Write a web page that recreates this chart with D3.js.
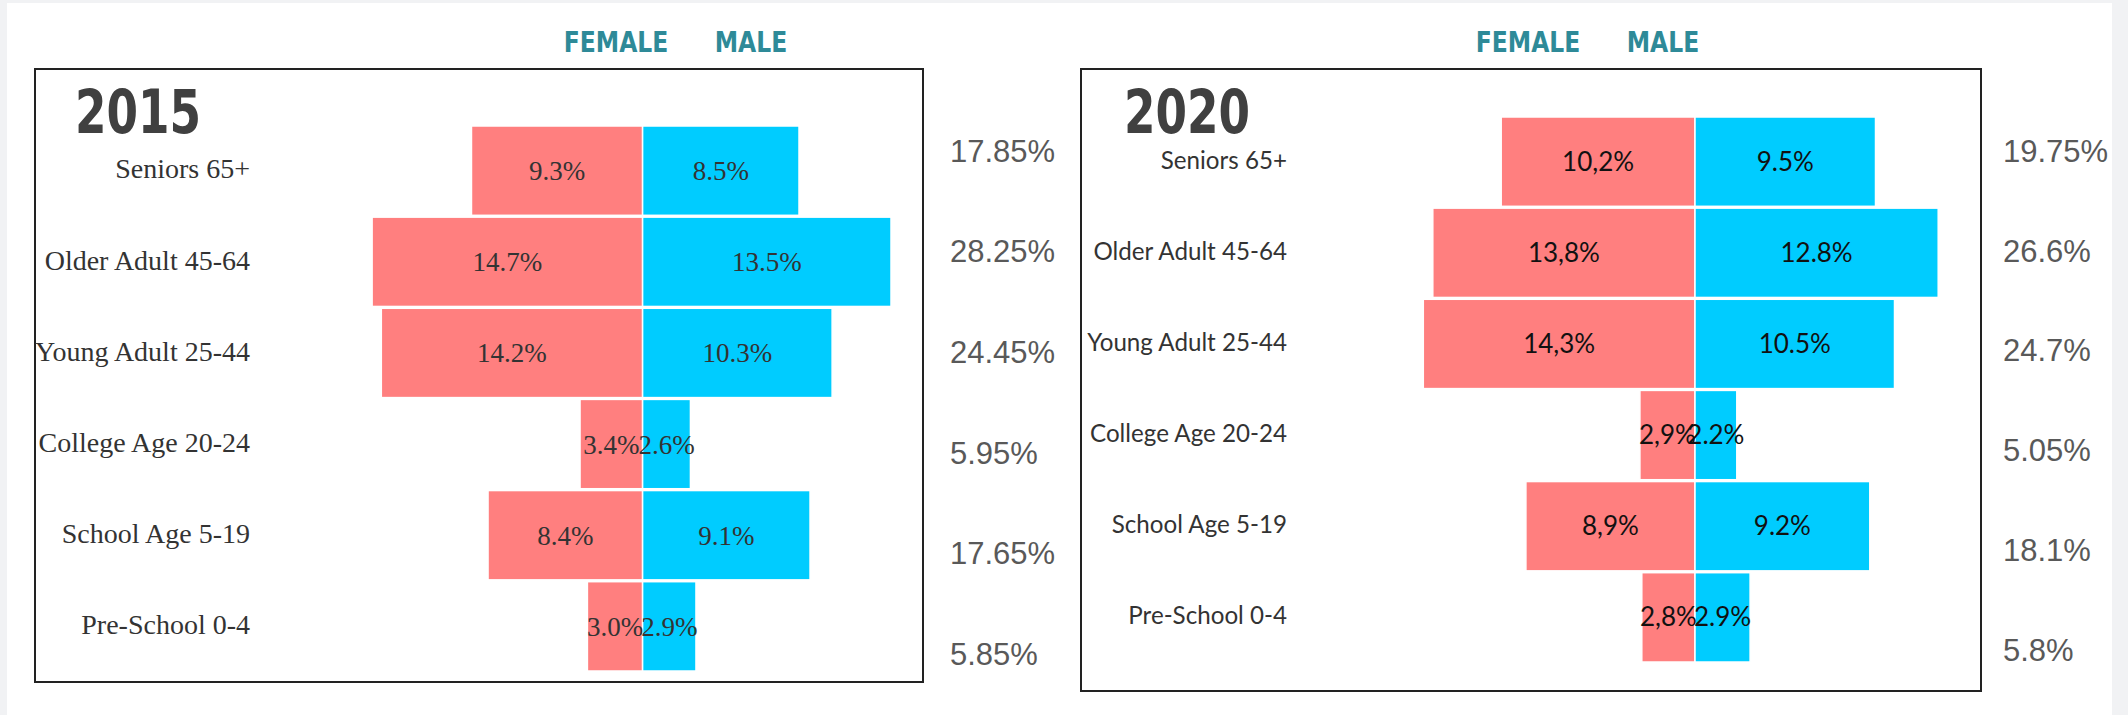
<!DOCTYPE html>
<html>
<head>
<meta charset="utf-8">
<script src="https://cdn.jsdelivr.net/npm/d3@7"></script>
<style>
body { margin: 0; background: #f1f2f4; }
svg { display: block; }
</style>
</head>
<body>
<div id="chart"></div>
<script>
// age groups, top to bottom
var groups = ["Seniors 65+", "Older Adult 45-64", "Young Adult 25-44", "College Age 20-24", "School Age 5-19", "Pre-School 0-4"];

// 2015
var female2015 = [9.3, 14.7, 14.2, 3.4, 8.4, 3.0];
var male2015 = [8.5, 13.5, 10.3, 2.6, 9.1, 2.9];
var total2015 = ["17.85%", "28.25%", "24.45%", "5.95%", "17.65%", "5.85%"];

// 2020
var female2020 = [10.2, 13.8, 14.3, 2.9, 8.9, 2.8];
var male2020 = [9.5, 12.8, 10.5, 2.2, 9.2, 2.9];
var total2020 = ["19.75%", "26.6%", "24.7%", "5.05%", "18.1%", "5.8%"];

var femaleColor = "#ff7f7f",
    maleColor = "#00ccff",
    headColor = "#2e8a98";

var condensed = "'Liberation Sans Narrow', 'DejaVu Sans Condensed', sans-serif";

var width = 2128, height = 715;

var svg = d3.select("#chart").append("svg")
    .attr("width", width)
    .attr("height", height);

svg.append("rect")
    .attr("x", 7).attr("y", 3)
    .attr("width", 2105).attr("height", height - 3)
    .attr("fill", "#fff");

var panels = [
    {year: "2015", female: female2015, male: male2015, total: total2015,
     box: [35, 69, 923, 682], mid: 642.6, perPct: 18.4, band: [126, 671],
     labelX: 250, totalX: 950, totalY: [151, 654], head: [616, 751],
     yearX: 75, serif: true, femaleSep: "."},
    {year: "2020", female: female2020, male: male2020, total: total2020,
     box: [1081, 69, 1981, 691], mid: 1695, perPct: 19.0, band: [117, 662],
     labelX: 1287, totalX: 2003, totalY: [151, 650], head: [1528, 1663],
     yearX: 1124, serif: false, femaleSep: ","}
];

panels.forEach(function(p) {
    var g = svg.append("g");

    var y = d3.scaleBand()
        .domain(groups)
        .range(p.band)
        .paddingInner(0.02);

    var x = d3.scaleLinear()
        .domain([0, 10])
        .range([0, 10 * p.perPct]);

    var yTotal = d3.scalePoint()
        .domain(groups)
        .range(p.totalY);

    var labelFont = p.serif ? "'Liberation Serif', 'Times New Roman', serif" : "Lato, 'Open Sans', sans-serif";

    // frame
    g.append("rect")
        .attr("x", p.box[0]).attr("y", p.box[1])
        .attr("width", p.box[2] - p.box[0])
        .attr("height", p.box[3] - p.box[1])
        .attr("fill", "none")
        .attr("stroke", "#222")
        .attr("stroke-width", 2);

    // legend words above frame (squeezed like a condensed face)
    ["FEMALE", "MALE"].forEach(function(word, i) {
        g.append("text")
            .attr("transform", "translate(" + p.head[i] + ",52) scale(0.9,1)")
            .attr("text-anchor", "middle")
            .attr("font-family", condensed)
            .attr("font-weight", "bold")
            .attr("font-size", 29)
            .attr("fill", headColor)
            .text(word);
    });

    // year
    g.append("text")
        .attr("transform", "translate(" + p.yearX + ",133) scale(0.84,1)")
        .attr("font-family", condensed)
        .attr("font-weight", "bold")
        .attr("font-size", 60)
        .attr("fill", "#404040")
        .text(p.year);

    // female bars
    g.selectAll(".fbar")
        .data(p.female)
        .enter().append("rect")
        .attr("class", "fbar")
        .attr("x", function(d) { return p.mid - x(d); })
        .attr("y", function(d, i) { return y(groups[i]); })
        .attr("width", function(d) { return x(d); })
        .attr("height", y.bandwidth())
        .attr("fill", femaleColor)
        .attr("stroke", "#fff")
        .attr("stroke-width", 1.5);

    // male bars
    g.selectAll(".mbar")
        .data(p.male)
        .enter().append("rect")
        .attr("class", "mbar")
        .attr("x", p.mid)
        .attr("y", function(d, i) { return y(groups[i]); })
        .attr("width", function(d) { return x(d); })
        .attr("height", y.bandwidth())
        .attr("fill", maleColor)
        .attr("stroke", "#fff")
        .attr("stroke-width", 1.5);

    // value labels
    g.selectAll(".flab")
        .data(p.female)
        .enter().append("text")
        .attr("x", function(d) { return p.mid - x(d) / 2; })
        .attr("y", function(d, i) { return y(groups[i]) + y.bandwidth() / 2; })
        .attr("dy", "0.35em")
        .attr("text-anchor", "middle")
        .attr("font-family", labelFont)
        .attr("font-size", p.serif ? 27 : 26)
        .attr("fill", p.serif ? "#333" : "#111")
        .text(function(d) { return d.toFixed(1).replace(".", p.femaleSep) + "%"; });

    g.selectAll(".mlab")
        .data(p.male)
        .enter().append("text")
        .attr("x", function(d) { return p.mid + x(d) / 2; })
        .attr("y", function(d, i) { return y(groups[i]) + y.bandwidth() / 2; })
        .attr("dy", "0.35em")
        .attr("text-anchor", "middle")
        .attr("font-family", labelFont)
        .attr("font-size", p.serif ? 27 : 26)
        .attr("fill", p.serif ? "#333" : "#111")
        .text(function(d) { return d.toFixed(1) + "%"; });

    // category names
    g.selectAll(".cat")
        .data(groups)
        .enter().append("text")
        .attr("transform", function(d) {
            return "translate(" + p.labelX + "," + (y(d) + y.bandwidth() / 2 - 2) + ") scale(" + (p.serif ? 1 : 0.93) + ",1)";
        })
        .attr("dy", "0.35em")
        .attr("text-anchor", "end")
        .attr("font-family", labelFont)
        .attr("font-size", p.serif ? 28 : 26)
        .attr("fill", "#333")
        .text(function(d) { return d; });

    // totals on the right
    g.selectAll(".tot")
        .data(p.total)
        .enter().append("text")
        .attr("x", p.totalX)
        .attr("y", function(d, i) { return yTotal(groups[i]); })
        .attr("dy", "0.35em")
        .attr("font-family", "'Liberation Sans', Arial, sans-serif")
        .attr("font-size", 31)
        .attr("fill", "#595959")
        .text(function(d) { return d; });
});
</script>
</body>
</html>
